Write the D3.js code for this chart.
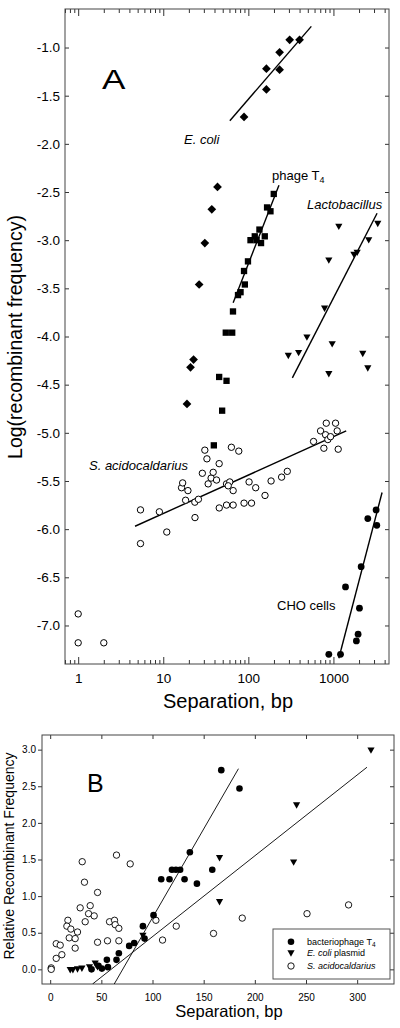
<!DOCTYPE html>
<html><head><meta charset="utf-8">
<script src="https://cdn.jsdelivr.net/npm/d3@7"></script>
<style>
body{margin:0;background:#fff}
svg{display:block}
text{font-family:Arial,"Liberation Sans",Helvetica,sans-serif;fill:#000}
</style></head>
<body><svg id="c" width="400" height="1028"></svg>
<script>
// ---------- Panel A data (x = separation bp, y = log recombinant frequency) ----------
const aTicksY = [-1.0,-1.5,-2.0,-2.5,-3.0,-3.5,-4.0,-4.5,-5.0,-5.5,-6.0,-6.5,-7.0];
const aTicksX = [1,10,100,1000];
const aMinorX = [0.7,0.8,0.9,2,3,4,5,6,7,8,9,20,30,40,50,60,70,80,90,200,300,400,500,600,700,800,900,2000,3000,4000];

const ecoliA = [[89,-1.72],[163,-1.22],[163,-1.435],[233,-1.05],[233,-1.23],[306,-0.92],[400,-0.92]];
const ecoliAFit = [[60.6,-1.76],[550,-0.78]];
const diamondLowA = [[43.4,-2.447],[37.2,-2.68],[30.8,-3.03],[26.4,-3.46],[22.7,-4.24],[20.9,-4.32],[19.0,-4.70]];
const phageA = [[199,-2.52],[166,-2.66],[182,-2.70],[135,-2.89],[156,-2.96],[119,-2.96],[106,-3.0],[125,-3.0],
  [141,-3.03],[99,-3.22],[89,-3.32],[91,-3.46],[81,-3.54],[75.6,-3.57],[66,-3.74],[54.3,-3.96],[64.6,-3.96],
  [45.4,-4.42],[55.4,-4.46],[49.2,-4.77],[39.3,-5.13]];
const phageAFit = [[66.3,-3.65],[229,-2.43]];
const lactoA = [[3320,-2.83],[1157,-2.86],[2600,-3.0],[1900,-3.13],[1740,-3.15],[883,-3.21],[787,-3.71],
  [488,-4.01],[967,-4.08],[390,-4.17],[295,-4.20],[883,-4.39],[2212,-4.18],[2535,-4.33]];
const lactoAFit = [[329,-4.43],[3260,-2.72]];
const sacidoA = [[1,-6.88],[1,-7.18],[2,-7.18],[5.4,-5.80],[5.4,-6.15],[9,-5.82],[11,-6.03],[16.4,-5.57],
  [16.9,-5.52],[18.3,-5.70],[19.5,-5.60],[23.5,-5.72],[23.6,-5.88],[25.9,-5.69],[28.8,-5.42],[30.8,-5.18],
  [32.6,-5.27],[33.7,-5.53],[36.5,-5.47],[38.6,-5.41],[42.3,-5.49],[45.5,-5.78],[45.4,-5.32],[55.4,-5.53],
  [55.4,-5.75],[60.5,-5.51],[63.2,-5.15],[58,-5.55],[66.3,-5.60],[66.3,-5.75],[77.2,-5.19],[89,-5.73],
  [102,-5.51],[109,-5.73],[122,-5.57],[157,-5.65],[185,-5.50],[246,-5.46],[287,-5.40],[584,-5.09],
  [706,-4.98],[772,-5.16],[808,-5.02],[824,-4.90],[860,-5.07],[925,-5.04],[1059,-4.90],[1107,-4.98],[1138,-5.17]];
const sacidoAFit = [[4.66,-5.97],[1413,-4.98]];
const choA = [[3175,-5.80],[2535,-5.89],[3235,-5.96],[2118,-6.39],[1387,-6.60],[2023,-6.82],[1950,-7.09],
  [1862,-7.16],[883,-7.30],[1211,-7.30]];
const choAFit = [[1157,-7.34],[3730,-5.62]];

// ---------- Panel B data (x = separation bp, y = relative recombinant frequency) ----------
const bTicksX = [0,50,100,150,200,250,300];
const bTicksY = [0.0,0.5,1.0,1.5,2.0,2.5,3.0];
const t4B = [[167.2,2.72],[185,2.47],[136.5,1.60],[108.5,1.23],[116.6,1.23],[119,1.36],[122.9,1.36],[127,1.36],
  [131.3,1.23],[143.4,1.17],[158.4,1.36],[101,0.74],[90.6,0.59],[92.2,0.42],[82.1,0.36],[77.2,0.32],
  [67.1,0.22],[64.8,0.13],[55.4,0.13],[56.4,0.03],[50.5,0.01],[47.2,0.05],[40.4,0.0]];
const t4BFit = [[62.6,-0.2],[184,2.74]];
const plasmidB = [[313.5,2.99],[240.8,2.24],[237.9,1.46],[165.5,1.52],[165.5,0.92],[90.6,0.46],[19.6,-0.01],
  [22.2,-0.01],[26.7,0.0],[31,0.01],[38.4,0.03],[44,0.08],[46.3,0.03]];
const plasmidBFit = [[41.4,-0.2],[309.6,2.76]];
const sacidoB = [[1,0.02],[1,0.0],[5.9,0.35],[5.9,0.15],[9.8,0.33],[11.4,0.20],[17.3,0.67],[16.3,0.59],
  [20.2,0.55],[18.6,0.43],[24.4,0.42],[26.7,0.51],[24.4,0.29],[29.3,0.84],[31.3,1.47],[33.5,1.19],[34.2,0.65],
  [37.5,0.76],[39.1,0.87],[43,0.73],[46.3,1.05],[46.3,0.37],[56,0.39],[58,0.65],[62.9,0.67],[63.5,0.61],
  [64.8,1.56],[67.1,0.56],[67.1,0.39],[78.2,1.44],[103.3,0.67],[109.8,0.40],[123.2,0.59],[159.6,0.49],
  [187.7,0.70],[251,0.76],[291.6,0.88]];

const svg = d3.select("#c");
const font = 'Arial,"Liberation Sans",Helvetica,sans-serif';

// ================= Panel A =================
const A = {l:65, r:389, t:9, b:664};
const xA = d3.scaleLog().domain([0.7,4500]).range([A.l,A.r]);
const yA = d3.scaleLinear().domain([-7.4,-0.6]).range([A.b,A.t]);
const gA = svg.append("g");

function styleAxis(g){
  g.select(".domain").remove();
  g.selectAll("line").attr("stroke","#333").attr("stroke-width",1);
}
// bottom ticks
gA.append("g").attr("transform",`translate(0,${A.b})`)
  .call(d3.axisBottom(xA).tickValues(aTicksX).tickSize(-7).tickPadding(9).tickFormat(d3.format("d")))
  .call(styleAxis).selectAll("text").attr("font-size",13.5).attr("font-family",font).attr("fill","#000");
gA.append("g").attr("transform",`translate(0,${A.b})`)
  .call(d3.axisBottom(xA).tickValues(aMinorX).tickSize(-4).tickFormat(""))
  .call(styleAxis);
gA.append("g").attr("transform",`translate(0,${A.t})`)
  .call(d3.axisTop(xA).tickValues(aTicksX).tickSize(-7).tickFormat(""))
  .call(styleAxis);
gA.append("g").attr("transform",`translate(0,${A.t})`)
  .call(d3.axisTop(xA).tickValues(aMinorX).tickSize(-4).tickFormat(""))
  .call(styleAxis);
gA.append("g").attr("transform",`translate(${A.l},0)`)
  .call(d3.axisLeft(yA).tickValues(aTicksY).tickSize(-4).tickPadding(5).tickFormat(d=>d.toFixed(1)))
  .call(styleAxis).selectAll("text").attr("font-size",13.5).attr("font-family",font).attr("fill","#000");
gA.append("g").attr("transform",`translate(${A.r},0)`)
  .call(d3.axisRight(yA).tickValues(aTicksY).tickSize(-4).tickFormat(""))
  .call(styleAxis);
gA.append("rect").attr("x",A.l).attr("y",A.t).attr("width",A.r-A.l).attr("height",A.b-A.t)
  .attr("fill","none").attr("stroke","#444").attr("stroke-width",1);

const lineA = d3.line().x(d=>xA(d[0])).y(d=>yA(d[1]));
[ecoliAFit,phageAFit,lactoAFit,sacidoAFit,choAFit].forEach(f=>{
  gA.append("path").attr("d",lineA(f)).attr("stroke","#000").attr("stroke-width",1.4).attr("fill","none");
});

const diamond = d3.symbol(d3.symbolSquare, 38)();
gA.selectAll(".dia").data(ecoliA.concat(diamondLowA)).join("path")
  .attr("d",diamond).attr("transform",d=>`translate(${xA(d[0])},${yA(d[1])}) rotate(45) scale(1,1)`).attr("fill","#000");
const square = d3.symbol(d3.symbolSquare, 40)();
gA.selectAll(".sq").data(phageA).join("path")
  .attr("d",square).attr("transform",d=>`translate(${xA(d[0])},${yA(d[1])})`).attr("fill","#000");
const triDown = "M-3.6,-3L3.6,-3L0,3.4Z";
gA.selectAll(".tri").data(lactoA).join("path")
  .attr("d",triDown).attr("transform",d=>`translate(${xA(d[0])},${yA(d[1])})`).attr("fill","#000");
gA.selectAll(".oc").data(sacidoA).join("circle")
  .attr("cx",d=>xA(d[0])).attr("cy",d=>yA(d[1])).attr("r",3.2)
  .attr("fill","#fff").attr("stroke","#000").attr("stroke-width",1);
gA.selectAll(".fc").data(choA).join("circle")
  .attr("cx",d=>xA(d[0])).attr("cy",d=>yA(d[1])).attr("r",3.4).attr("fill","#000");

// labels A
gA.append("text").attr("transform","translate(102,89) scale(1.3,1)").attr("font-size",27).text("A");
gA.append("text").attr("x",184).attr("y",144).attr("font-size",13).attr("font-style","italic").text("E. coli");
const ph = gA.append("text").attr("x",272).attr("y",179.5).attr("font-size",13);
ph.append("tspan").text("phage T");
ph.append("tspan").attr("font-size",9).attr("dy",3).text("4");
gA.append("text").attr("x",307).attr("y",209).attr("font-size",13).attr("font-style","italic").text("Lactobacillus");
gA.append("text").attr("x",89).attr("y",470).attr("font-size",13).attr("font-style","italic").text("S. acidocaldarius");
gA.append("text").attr("x",277).attr("y",610).attr("font-size",13).text("CHO cells");
gA.append("text").attr("x",228).attr("y",708).attr("text-anchor","middle").attr("font-size",20).text("Separation, bp");
gA.append("text").attr("transform","translate(22,337) rotate(-90)").attr("text-anchor","middle")
  .attr("font-size",19.5).text("Log(recombinant frequency)");

// ================= Panel B =================
const B = {l:42, r:394, t:735, b:984};
const xB = d3.scaleLinear().domain([-8,336]).range([B.l,B.r]);
const yB = d3.scaleLinear().domain([-0.2,3.2]).range([B.b,B.t]);
const gB = svg.append("g");

gB.append("g").attr("transform",`translate(0,${B.b})`)
  .call(d3.axisBottom(xB).tickValues(bTicksX).tickSize(-4).tickPadding(10).tickFormat(d3.format("d")))
  .call(styleAxis).selectAll("text").attr("font-size",10).attr("font-family",font).attr("fill","#000");
gB.append("g").attr("transform",`translate(0,${B.t})`)
  .call(d3.axisTop(xB).tickValues(bTicksX).tickSize(-4).tickFormat(""))
  .call(styleAxis);
gB.append("g").attr("transform",`translate(${B.l},0)`)
  .call(d3.axisLeft(yB).tickValues(bTicksY).tickSize(4).tickPadding(2).tickFormat(d=>d.toFixed(1)))
  .call(styleAxis).selectAll("text").attr("font-size",10).attr("font-family",font).attr("fill","#000");
gB.append("g").attr("transform",`translate(${B.r},0)`)
  .call(d3.axisRight(yB).tickValues(bTicksY).tickSize(-4).tickFormat(""))
  .call(styleAxis);
gB.append("rect").attr("x",B.l).attr("y",B.t).attr("width",B.r-B.l).attr("height",B.b-B.t)
  .attr("fill","none").attr("stroke","#444").attr("stroke-width",1);

const clipB = svg.append("clipPath").attr("id","clipB").append("rect")
  .attr("x",B.l).attr("y",B.t).attr("width",B.r-B.l).attr("height",B.b-B.t);
const lineB = d3.line().x(d=>xB(d[0])).y(d=>yB(d[1]));
[t4BFit,plasmidBFit].forEach(f=>{
  gB.append("path").attr("d",lineB(f)).attr("stroke","#000").attr("stroke-width",0.9)
    .attr("fill","none").attr("clip-path","url(#clipB)");
});
gB.selectAll(".boc").data(sacidoB).join("circle")
  .attr("cx",d=>xB(d[0])).attr("cy",d=>yB(d[1])).attr("r",3.2)
  .attr("fill","#fff").attr("stroke","#000").attr("stroke-width",0.9);
gB.selectAll(".btri").data(plasmidB).join("path")
  .attr("d",triDown).attr("transform",d=>`translate(${xB(d[0])},${yB(d[1])})`).attr("fill","#000");
gB.selectAll(".bfc").data(t4B).join("circle")
  .attr("cx",d=>xB(d[0])).attr("cy",d=>yB(d[1])).attr("r",3.3).attr("fill","#000");

// legend
gB.append("rect").attr("x",273).attr("y",929).attr("width",117).attr("height",50)
  .attr("fill","#fff").attr("stroke","#555").attr("stroke-width",1);
const legY = [941.7,953.3,966];
gB.append("circle").attr("cx",291).attr("cy",legY[0]).attr("r",3.3).attr("fill","#000");
gB.append("path").attr("d",triDown).attr("transform",`translate(291,${legY[1]})`).attr("fill","#000");
gB.append("circle").attr("cx",291).attr("cy",legY[2]).attr("r",3.2).attr("fill","#fff").attr("stroke","#000").attr("stroke-width",0.9);
const l1 = gB.append("text").attr("x",307).attr("y",legY[0]+3).attr("font-size",9);
l1.append("tspan").text("bacteriophage T");
l1.append("tspan").attr("font-size",6.5).attr("dy",2).text("4");
const l2 = gB.append("text").attr("x",307).attr("y",legY[1]+3).attr("font-size",9);
l2.append("tspan").attr("font-style","italic").text("E. coli");
l2.append("tspan").text(" plasmid");
gB.append("text").attr("x",307).attr("y",legY[2]+3).attr("font-size",9).attr("font-style","italic").text("S. acidocaldarius");

gB.append("text").attr("x",87).attr("y",792).attr("font-size",25).text("B");
gB.append("text").attr("x",229).attr("y",1017).attr("text-anchor","middle").attr("font-size",16.5).text("Separation, bp");
gB.append("text").attr("transform","translate(14,856) rotate(-90)").attr("text-anchor","middle")
  .attr("font-size",14).text("Relative Recombinant Frequency");
</script>
</body></html>
